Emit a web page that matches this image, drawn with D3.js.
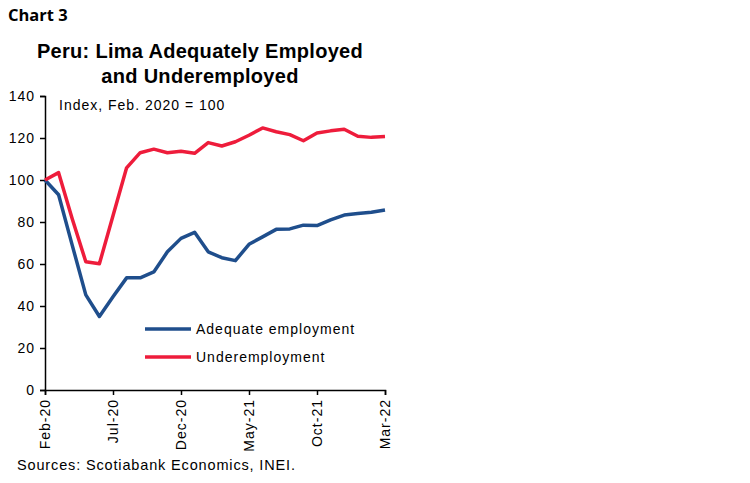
<!DOCTYPE html>
<html><head><meta charset="utf-8">
<script src="https://cdn.jsdelivr.net/npm/d3@7"></script>
<style>body{margin:0;background:#fff}svg{display:block}text{font-family:"Liberation Sans",Arial,sans-serif}</style>
</head><body><svg id="c" width="750" height="483"></svg>
<script>
const months = ["Feb-20","Mar-20","Apr-20","May-20","Jun-20","Jul-20","Aug-20","Sep-20","Oct-20","Nov-20","Dec-20","Jan-21","Feb-21","Mar-21","Apr-21","May-21","Jun-21","Jul-21","Aug-21","Sep-21","Oct-21","Nov-21","Dec-21","Jan-22","Feb-22","Mar-22"];
const adequate = [100,93,69,45.3,35,44.4,53.4,53.4,56.2,65.8,72.2,75.1,65.8,63,61.6,69.4,72.9,76.5,76.7,78.5,78.3,81,83.3,84,84.6,85.7];
const underemp = [100,103.5,81.5,61.1,60.1,83,105.8,113,114.7,113,113.7,112.7,117.8,116.2,118.2,121.3,124.8,123,121.6,118.7,122.4,123.4,124.2,120.8,120.3,120.7];
const xTickLabels = ["Feb-20","Jul-20","Dec-20","May-21","Oct-21","Mar-22"];
const yTicks = [0,20,40,60,80,100,120,140];
const seriesNames = ["Adequate employment","Underemployment"];
const colors = ["#1f4e8c","#ee1c3b"];

const svg = d3.select("#c");
const x = d3.scalePoint().domain(months).range([45,385]);
const y = d3.scaleLinear().domain([0,140]).range([390,96]);

svg.append("text").attr("x",8).attr("y",21).attr("font-size",16.5).attr("font-weight","bold")
  .style("font-family","'Open Sans',sans-serif").text("Chart 3");
svg.append("text").attr("x",200).attr("y",58).attr("text-anchor","middle").attr("font-size",20).attr("font-weight","bold").attr("letter-spacing",0.3).text("Peru: Lima Adequately Employed");
svg.append("text").attr("x",200).attr("y",83).attr("text-anchor","middle").attr("font-size",20).attr("font-weight","bold").attr("letter-spacing",0.3).text("and Underemployed");

const yAxis = svg.append("g").attr("transform","translate(45,0)")
  .call(d3.axisLeft(y).tickValues(yTicks).tickSize(5).tickPadding(8));
const xAxis = svg.append("g").attr("transform","translate(0,390)")
  .call(d3.axisBottom(x).tickValues(xTickLabels).tickSize(5).tickPadding(5));
[yAxis,xAxis].forEach(g=>{
  g.select(".domain").attr("stroke","#000").attr("stroke-width",1.5);
  g.selectAll(".tick line").attr("stroke","#000").attr("stroke-width",1.5);
  g.selectAll("text").attr("font-size",14).attr("fill","#000").attr("letter-spacing",1)
   .style("font-family","'Liberation Sans',Arial,sans-serif");
});
yAxis.selectAll("text").attr("x",-10);
xAxis.selectAll("text").attr("transform","rotate(-90)").attr("text-anchor","end")
  .attr("x",-9).attr("y",0).attr("dy","0.35em");

svg.append("text").attr("x",59).attr("y",110).attr("font-size",14).attr("letter-spacing",1).text("Index, Feb. 2020 = 100");

const line = d3.line().x((d,i)=>x(months[i])).y(d=>y(d));
[adequate,underemp].forEach((s,k)=>{
  svg.append("path").datum(s).attr("d",line).attr("fill","none")
    .attr("stroke",colors[k]).attr("stroke-width",3.5).attr("stroke-linejoin","round");
});

seriesNames.forEach((n,k)=>{
  const ly = 329 + k*28;
  svg.append("line").attr("x1",145).attr("x2",191).attr("y1",ly).attr("y2",ly)
    .attr("stroke",colors[k]).attr("stroke-width",3.5);
  svg.append("text").attr("x",196).attr("y",ly+5).attr("font-size",14).attr("letter-spacing",1).text(n);
});

svg.append("text").attr("x",17).attr("y",470).attr("font-size",14.5).attr("letter-spacing",0.85).text("Sources: Scotiabank Economics, INEI.");
</script></body></html>
